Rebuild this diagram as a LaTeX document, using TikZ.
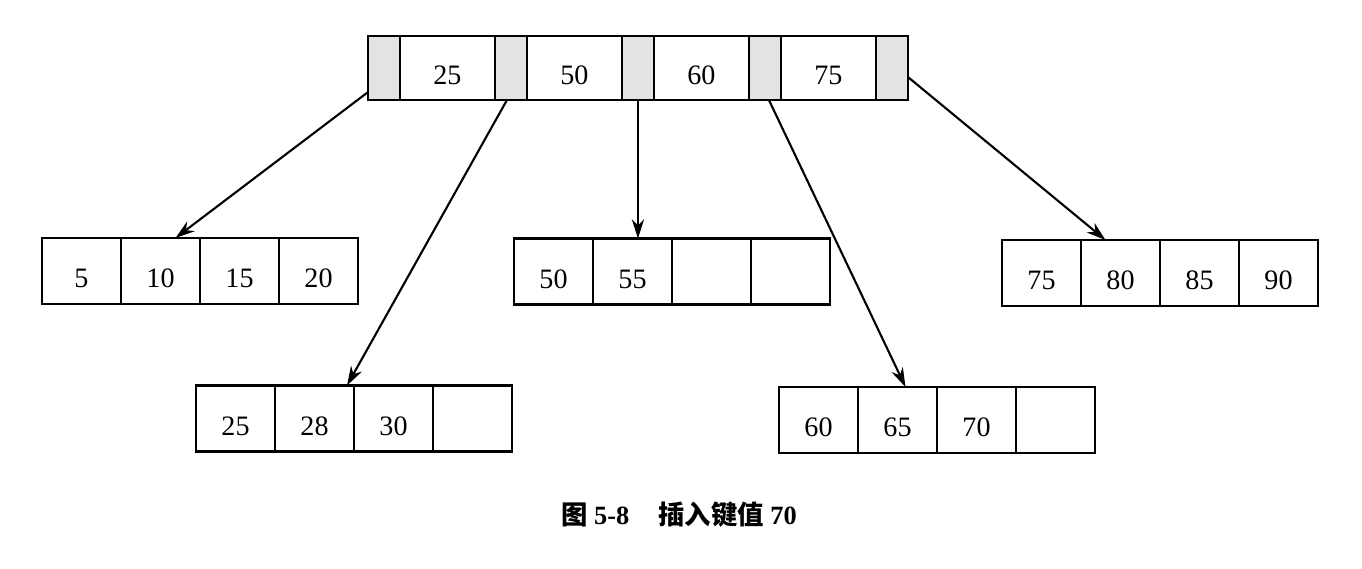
\documentclass[tikz,border=0pt]{standalone}
\usepackage{fontspec}
\setmainfont{Liberation Serif}
\newfontfamily\cjk{Noto Sans CJK SC}
\usetikzlibrary{positioning,arrows.meta}

\tikzset{
  cell/.style={draw, line width=1.2pt, inner sep=0pt, outer sep=0pt,
               text height=19pt, text depth=0pt,
               font=\fontsize{16}{19}\selectfont},
  key/.style={cell, minimum width=1.9cm, minimum height=1.28cm},
  ptr/.style={cell, fill=gray!22, minimum width=0.64cm, minimum height=1.28cm},
  leaf/.style={cell, minimum width=1.58cm, minimum height=1.32cm},
  link/.style={-{Stealth[length=11pt,width=7pt]}, line width=1.2pt}
}

% 叶子节点: 名字, 第一格中心 x, 中心 y, 键值
\newcommand{\leafnode}[4]{%
  \foreach \v [count=\i] in {#4} {
    \node[leaf] (#1-\i) at ({#2+(\i-1)*79},#3) {\v};
  }
}

\begin{document}
\begin{tikzpicture}[x=0.02cm, y=-0.02cm]
    \useasboundingbox (0,0) rectangle (1362,568);

    % --- 根节点: 指针与键值交替 ---
    \node[ptr] (p0) at (384,68) {};
    \foreach \k [count=\i, remember=\i as \j (initially 0)] in {25,50,60,75} {
      \node[key, right=0pt of p\j] (k\i) {\k};
      \node[ptr, right=0pt of k\i] (p\i) {};
    }

    % --- 叶子节点 ---
    \leafnode{a}{81.5}{271}{5,10,15,20}
    \leafnode{b}{235.5}{418.5}{25,28,30,{}}
    \leafnode{c}{553.5}{271.5}{50,55,{},{}}
    \leafnode{d}{818.5}{420}{60,65,70,{}}
    \leafnode{e}{1041.5}{273}{75,80,85,90}

    % --- 指针箭头 ---
    \draw[link] ([yshift=4.5pt]p0.south west) -- ([xshift=0.3cm]a-2.north);
    \draw[link] ([xshift=-0.08cm]p1.south) -- ([xshift=-0.14cm]b-2.north east);
    \draw[link] (p2.south) -- (p2.south |- c-2.north);
    \draw[link] ([xshift=0.08cm]p3.south) -- ([xshift=0.16cm]d-2.north);
    \draw[link] ([yshift=-0.18cm]p4.east) -- ([xshift=-0.3cm]e-2.north);

    % --- 图题 ---
    \node[font=\fontsize{15}{18}\selectfont\bfseries] (cap) at (679,515)
      {{\cjk 图}\ 5-8\hspace{1.1em}{\cjk 插入键值}\ 70};
\end{tikzpicture}
\end{document}
